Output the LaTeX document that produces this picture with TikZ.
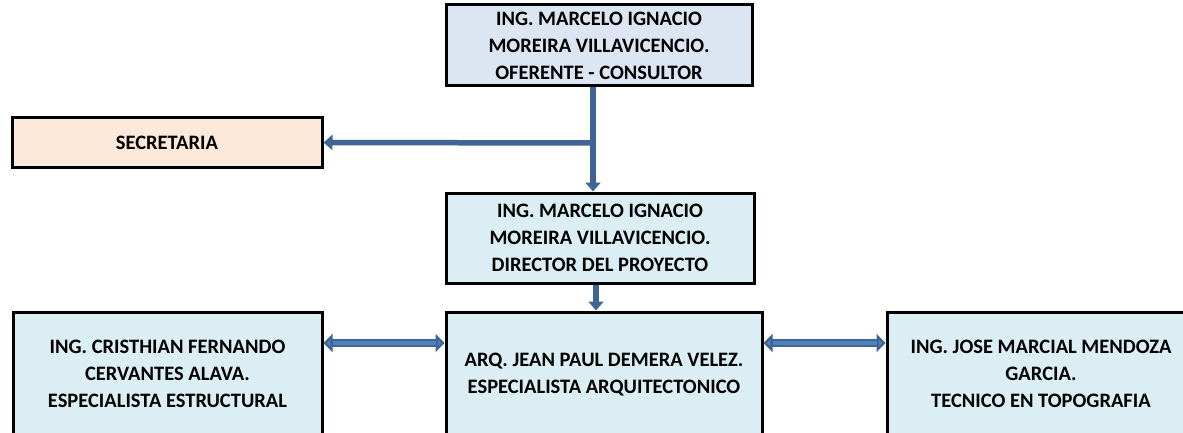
\documentclass[tikz,border=0pt]{standalone}
\usepackage{fontspec}
\setmainfont{Carlito}
\usetikzlibrary{arrows.meta}
\definecolor{topfill}{HTML}{DCE6F2}
\definecolor{boxfill}{HTML}{DAEEF3}
\definecolor{secfill}{HTML}{FDE9D9}
\definecolor{arr}{HTML}{3F6496}
\definecolor{arrlight}{HTML}{4F81BD}
\begin{document}
\begin{tikzpicture}[x=1pt,y=-1pt,
  box/.style={draw=black, line width=3pt, inner sep=0pt, align=center,
    font=\fontsize{20.5}{27}\selectfont\bfseries},
  conn/.style={arr, line width=5.5pt, -{Triangle[length=9pt,width=15pt]}},
  dbl/.style={arr, line width=8pt, {Triangle[length=9pt,width=18pt,fill=arrlight]}-{Triangle[length=9pt,width=18pt,fill=arrlight]}},
  dblin/.style={arrlight, line width=3.5pt, shorten <=9pt, shorten >=9pt}]
\useasboundingbox (0,0) rectangle (1183,433);
\clip (0,0) rectangle (1183,433);
\fill[white] (0,0) rectangle (1183,433);
\node[box, fill=topfill, minimum width=306pt, minimum height=81pt] (top) at (599,45.5)
  {ING. MARCELO IGNACIO\\MOREIRA VILLAVICENCIO.\\OFERENTE - CONSULTOR};
\node[box, fill=secfill, minimum width=310pt, minimum height=49pt] (sec) at (167,142.5) {SECRETARIA};
\node[box, fill=boxfill, minimum width=308pt, minimum height=90pt] (dir) at (600,238)
  {ING. MARCELO IGNACIO\\MOREIRA VILLAVICENCIO.\\DIRECTOR DEL PROYECTO};
\node[box, fill=boxfill, minimum width=309pt, minimum height=124pt] (left) at (167.5,374)
  {ING. CRISTHIAN FERNANDO\\CERVANTES ALAVA.\\ESPECIALISTA ESTRUCTURAL};
\node[box, fill=boxfill, minimum width=316pt, minimum height=126pt] (mid) at (604,375)
  {ARQ. JEAN PAUL DEMERA VELEZ.\\ESPECIALISTA ARQUITECTONICO};
\node[box, fill=boxfill, minimum width=308pt, minimum height=124pt] (right) at (1041,374)
  {ING. JOSE MARCIAL MENDOZA\\GARCIA.\\TECNICO EN TOPOGRAFIA};
\coordinate (j) at (593,143);
\coordinate (k) at (596,0);
\coordinate (m) at (0,343);
\draw[conn] (top.south -| j) -- (dir.north -| j);
\draw[conn] (j) -- (sec.east);
\draw[conn] (dir.south -| k) -- (mid.north -| k);
\draw[dbl] (left.east |- m) -- (mid.west |- m);
\draw[dblin] (left.east |- m) -- (mid.west |- m);
\draw[dbl] (mid.east |- m) -- (right.west |- m);
\draw[dblin] (mid.east |- m) -- (right.west |- m);
\end{tikzpicture}
\end{document}
